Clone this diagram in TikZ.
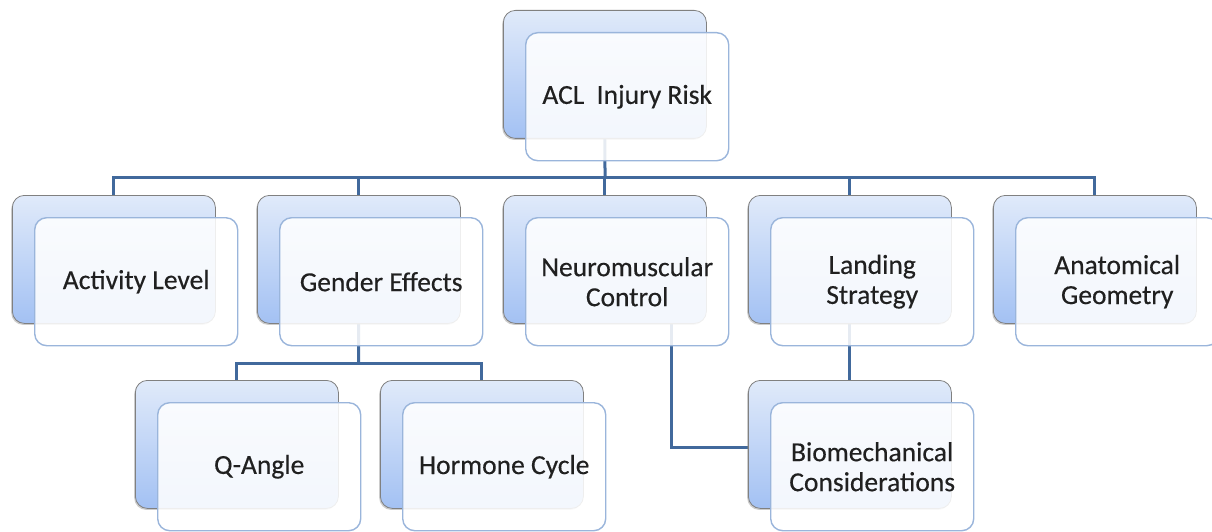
\documentclass[tikz,border=0pt]{standalone}
\usepackage{fontspec}
\setmainfont{Carlito}
\newfontfamily\boxfont[FakeBold=0.35]{Carlito}
\usetikzlibrary{shadows}
\pgfdeclarelayer{bg}
\pgfsetlayers{bg,main}
\definecolor{connc}{HTML}{41699C}
\definecolor{backtop}{HTML}{E0EAFA}
\definecolor{backbot}{HTML}{A3C1F3}
\definecolor{frontedge}{HTML}{9AB5DB}
\definecolor{txtc}{HTML}{202020}
\begin{document}
\begin{tikzpicture}[x=1pt,y=-1pt,
  backbox/.style={rounded corners=12pt, draw=black!50, line width=0.8pt,
    top color=backtop, bottom color=backbot, shading angle=0,
    minimum width=203pt, minimum height=128pt, anchor=north west, inner sep=0pt,
    drop shadow={shadow xshift=-1.2pt, shadow yshift=-1.5pt, opacity=0.4}},
  frontbox/.style={rounded corners=12pt, draw=frontedge, line width=1.4pt,
    fill=white, fill opacity=0.87, text opacity=1,
    minimum width=203pt, minimum height=128pt, anchor=north west, inner sep=2pt,
    align=center, text=txtc, font=\boxfont\fontsize{27.5}{30}\selectfont},
  link/.style={draw=connc, line width=3pt}]
\clip (0,0) rectangle (1212,532);
% top
\node[backbox] (aclB) at (503,10) {};
\node[frontbox] (aclF) at (525,32) {ACL\ \ Injury Risk};
% second row
\node[backbox] (actB) at (12,195) {};
\node[frontbox] (actF) at (34,217) {Activity Level};
\node[backbox] (genB) at (257,195) {};
\node[frontbox] (genF) at (279,217) {Gender Effects};
\node[backbox] (neuB) at (503,195) {};
\node[frontbox] (neuF) at (525,217) {Neuromuscular\\Control};
\node[backbox] (lanB) at (748,195) {};
\node[frontbox] (lanF) at (770,217) {Landing\\Strategy};
\node[backbox] (anaB) at (993,195) {};
\node[frontbox] (anaF) at (1015,217) {Anatomical\\Geometry};
% third row
\node[backbox] (qanB) at (135,380) {};
\node[frontbox] (qanF) at (157,402) {Q-Angle};
\node[backbox] (horB) at (380,380) {};
\node[frontbox] (horF) at (402,402) {Hormone Cycle};
\node[backbox] (bioB) at (748,380) {};
\node[frontbox] (bioF) at (770,402) {Biomechanical\\Considerations};
% connectors
\coordinate (bus) at (605,177);
\coordinate (gbus) at (358.5,363);
\begin{pgfonlayer}{bg}
\draw[link] (aclB.center) -- (bus);
\draw[link] (actB.north) |- (bus) -| (anaB.north);
\draw[link] (genB.north) -- (genB.north |- bus);
\draw[link] (neuB.north) -- (neuB.north |- bus);
\draw[link] (lanB.north) -- (lanB.north |- bus);
\draw[link] (genB.center) -- (gbus);
\draw[link] (qanB.north) |- (gbus) -| (horB.north);
\draw[link] (lanB.center) -- (bioB.north);
\draw[link] ([xshift=44pt]neuF.center) |- ([yshift=-3pt]bioB.west);
\end{pgfonlayer}
\end{tikzpicture}
\end{document}
